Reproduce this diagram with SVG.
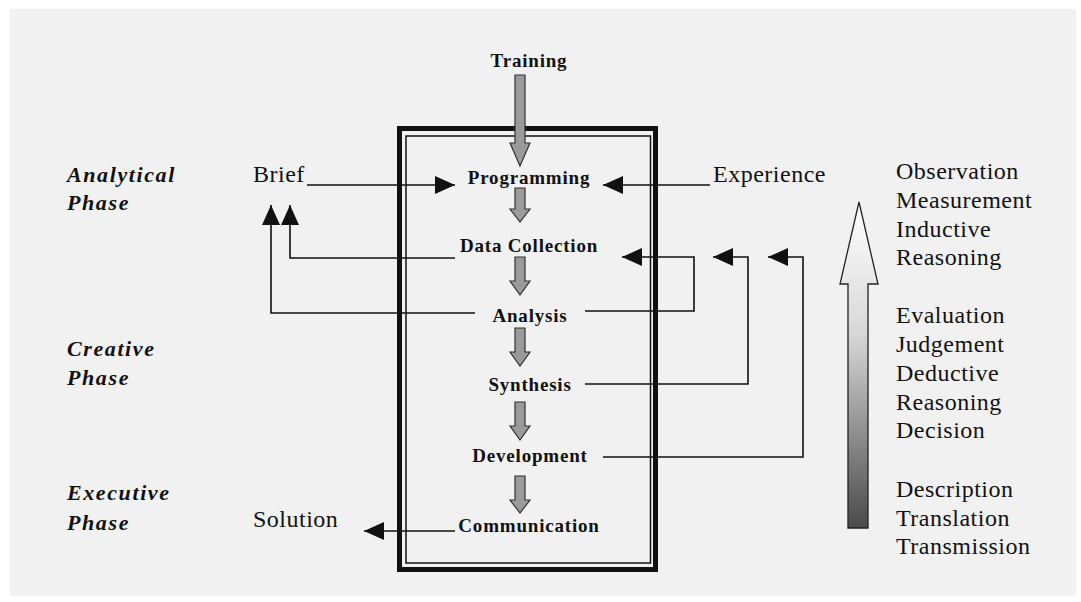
<svg xmlns="http://www.w3.org/2000/svg" width="1081" height="602" viewBox="0 0 1081 602">
<defs>
<style>
.step{font-family:"Liberation Serif",serif;font-weight:bold;font-size:19px;letter-spacing:0.8px;fill:#111;text-anchor:middle}
.phase{font-family:"Liberation Serif",serif;font-weight:bold;font-style:italic;font-size:22px;letter-spacing:1.6px;fill:#111}
.lbl{font-family:"Liberation Serif",serif;font-size:24px;letter-spacing:0.5px;fill:#111}
.conn{fill:none;stroke:#111;stroke-width:1.6}
.down{fill:#9a9a9a;stroke:#333;stroke-width:1.2}
</style>
<marker id="ah" viewBox="0 0 20 20" refX="20" refY="10" markerWidth="20" markerHeight="20" markerUnits="userSpaceOnUse" orient="auto">
<path d="M0,1 L20,10 L0,19 Z" fill="#111"/>
</marker>
<linearGradient id="grad" x1="0" y1="0" x2="0" y2="1">
<stop offset="0" stop-color="#ffffff"/>
<stop offset="0.4" stop-color="#d8d8d8"/>
<stop offset="1" stop-color="#4a4a4a"/>
</linearGradient>
</defs>
<rect x="0" y="0" width="1081" height="602" fill="#ffffff"/>
<rect x="10" y="9" width="1066" height="587" fill="#f1f1f1"/>

<g id="frame">
<rect x="399.5" y="128.5" width="256" height="441" fill="none" stroke="#111" stroke-width="5"/>
<rect x="406" y="136" width="244.5" height="427" fill="none" stroke="#111" stroke-width="1.5"/>
</g>

<g id="connectors">
<path class="conn" d="M307,185 H455" marker-end="url(#ah)"/>
<path class="conn" d="M710,185 H603" marker-end="url(#ah)"/>
<path class="conn" d="M455,258 H290 V205" marker-end="url(#ah)"/>
<path class="conn" d="M475,313 H271 V205" marker-end="url(#ah)"/>
<path class="conn" d="M585,311 H694 V257 H622" marker-end="url(#ah)"/>
<path class="conn" d="M585,384 H748 V257 H713" marker-end="url(#ah)"/>
<path class="conn" d="M603,457 H803 V257 H768" marker-end="url(#ah)"/>
<path class="conn" d="M455,531 H364" marker-end="url(#ah)"/>
<path class="down" d="M515,75 H525 V143 H530 L520,166 L510,143 H515 Z"/>
<path class="down" d="M515,188 H525 V209 H530 L520,222 L510,209 H515 Z"/>
<path class="down" d="M515,257 H525 V281 H530 L520,295 L510,281 H515 Z"/>
<path class="down" d="M515,328 H525 V352 H530 L520,366 L510,352 H515 Z"/>
<path class="down" d="M515,402 H525 V426 H530 L520,440 L510,426 H515 Z"/>
<path class="down" d="M515,476 H525 V500 H530 L520,513 L510,500 H515 Z"/>
</g>

<g id="training"><text class="step" x="529" y="67">Training</text></g>
<g id="programming"><text class="step" x="529" y="184">Programming</text></g>
<g id="data-collection"><text class="step" x="529" y="252">Data Collection</text></g>
<g id="analysis"><text class="step" x="530" y="322">Analysis</text></g>
<g id="synthesis"><text class="step" x="530" y="391">Synthesis</text></g>
<g id="development"><text class="step" x="530" y="462">Development</text></g>
<g id="communication"><text class="step" x="529" y="532">Communication</text></g>

<g id="brief"><text class="lbl" x="253" y="182">Brief</text></g>
<g id="experience"><text class="lbl" x="713" y="182">Experience</text></g>
<g id="solution"><text class="lbl" x="253" y="527">Solution</text></g>

<g id="phases">
<text class="phase" x="67" y="182">Analytical</text>
<text class="phase" x="67" y="210">Phase</text>
<text class="phase" x="67" y="356">Creative</text>
<text class="phase" x="67" y="385">Phase</text>
<text class="phase" x="67" y="500">Executive</text>
<text class="phase" x="67" y="530">Phase</text>
</g>

<g id="scale">
<path d="M848,528 V284 H840 L859,202 L878,284 H868 V528 Z" fill="url(#grad)" stroke="#222" stroke-width="1.3"/>
<text class="lbl" x="896" y="179">Observation</text>
<text class="lbl" x="896" y="208">Measurement</text>
<text class="lbl" x="896" y="237">Inductive</text>
<text class="lbl" x="896" y="265">Reasoning</text>
<text class="lbl" x="896" y="323">Evaluation</text>
<text class="lbl" x="896" y="352">Judgement</text>
<text class="lbl" x="896" y="381">Deductive</text>
<text class="lbl" x="896" y="410">Reasoning</text>
<text class="lbl" x="896" y="438">Decision</text>
<text class="lbl" x="896" y="497">Description</text>
<text class="lbl" x="896" y="526">Translation</text>
<text class="lbl" x="896" y="554">Transmission</text>
</g>
</svg>
